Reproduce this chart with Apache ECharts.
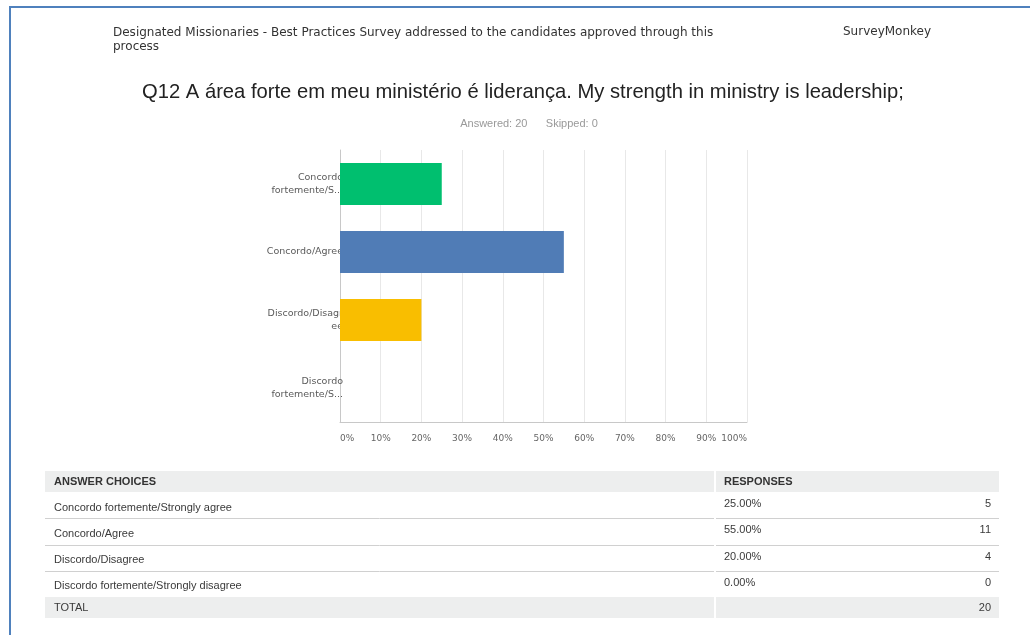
<!DOCTYPE html>
<html>
<head>
<meta charset="utf-8">
<title>Q12 A área forte em meu ministério é liderança</title>
<script src="https://cdn.jsdelivr.net/npm/echarts@6/dist/echarts.min.js"></script>
<style>
  html, body { margin: 0; padding: 0; background: #fff; }
  #chart { width: 1030px; height: 635px; }
</style>
</head>
<body>
<div id="chart"></div>
<script>
// Answer choices (full text, shown in the table)
const answerChoices = [
  'Concordo fortemente/Strongly agree',
  'Concordo/Agree',
  'Discordo/Disagree',
  'Discordo fortemente/Strongly disagree'
];
// Shortened labels shown on the category axis
const axisLabels = [
  'Concordo\nfortemente/S...',
  'Concordo/Agree',
  'Discordo/Disagr\nee',
  'Discordo\nfortemente/S...'
];
// Response counts and percentages
const responseCounts = [5, 11, 4, 0];
const responsePercents = [25, 55, 20, 0];
const totalResponses = 20;
const skipped = 0;
const barColors = ['#00BF6F', '#507CB6', '#F9BE00', '#D25F90'];

const chart = echarts.init(document.getElementById('chart'), null, { renderer: 'canvas' });

// Table drawn below the chart
const tbl = { left: 45, right: 999, split: 715, headTop: 471, headH: 21, rowH: 26.3 };
const tableEls = [];
const ff = '"Liberation Sans", Arial, sans-serif';
const cellColor = '#3a3a3a';
tableEls.push({ type: 'rect', shape: { x: tbl.left, y: tbl.headTop, width: tbl.split - tbl.left - 1, height: tbl.headH }, style: { fill: '#EDEEEE' } });
tableEls.push({ type: 'rect', shape: { x: tbl.split + 1, y: tbl.headTop, width: tbl.right - tbl.split - 1, height: tbl.headH }, style: { fill: '#EDEEEE' } });
tableEls.push({ type: 'text', x: 54, y: tbl.headTop + 11, style: { text: 'ANSWER CHOICES', font: 'bold 11px ' + ff, fill: '#333', textVerticalAlign: 'middle' } });
tableEls.push({ type: 'text', x: 724, y: tbl.headTop + 11, style: { text: 'RESPONSES', font: 'bold 11px ' + ff, fill: '#333', textVerticalAlign: 'middle' } });
answerChoices.forEach((name, i) => {
  const top = tbl.headTop + tbl.headH + i * tbl.rowH;
  tableEls.push({ type: 'text', x: 54, y: top + 15.5, style: { text: name, font: '11px ' + ff, fill: cellColor, textVerticalAlign: 'middle' } });
  tableEls.push({ type: 'text', x: 724, y: top + 12, style: { text: responsePercents[i].toFixed(2) + '%', font: '11px ' + ff, fill: cellColor, textVerticalAlign: 'middle' } });
  tableEls.push({ type: 'text', x: 991, y: top + 12, style: { text: String(responseCounts[i]), font: '11px ' + ff, fill: cellColor, textAlign: 'right', textVerticalAlign: 'middle' } });
  if (i < answerChoices.length - 1) {
    const ly = Math.round(top + tbl.rowH) + 0.5;
    tableEls.push({ type: 'line', shape: { x1: tbl.left, y1: ly, x2: tbl.split - 1, y2: ly }, style: { stroke: '#D0D0D0', lineWidth: 1 } });
    tableEls.push({ type: 'line', shape: { x1: tbl.split + 1, y1: ly, x2: tbl.right, y2: ly }, style: { stroke: '#D0D0D0', lineWidth: 1 } });
  }
});
const totTop = 597;
tableEls.push({ type: 'rect', shape: { x: tbl.left, y: totTop, width: tbl.split - tbl.left - 1, height: 21 }, style: { fill: '#EDEEEE' } });
tableEls.push({ type: 'rect', shape: { x: tbl.split + 1, y: totTop, width: tbl.right - tbl.split - 1, height: 21 }, style: { fill: '#EDEEEE' } });
tableEls.push({ type: 'text', x: 54, y: totTop + 10.5, style: { text: 'TOTAL', font: '11px ' + ff, fill: cellColor, textVerticalAlign: 'middle' } });
tableEls.push({ type: 'text', x: 991, y: totTop + 10.5, style: { text: String(totalResponses), font: '11px ' + ff, fill: cellColor, textAlign: 'right', textVerticalAlign: 'middle' } });

const option = {
  backgroundColor: '#ffffff',
  animation: false,
  title: [
    {
      text: 'Q12 A área forte em meu ministério é liderança. My strength in ministry is leadership;',
      left: 518, top: 77, textAlign: 'center',
      textStyle: { fontFamily: ff, fontSize: 20.2, fontWeight: 'normal', color: '#222' }
    },
    {
      text: 'Answered: ' + totalResponses + '      Skipped: ' + skipped,
      left: 524, top: 113, textAlign: 'center',
      textStyle: { fontFamily: ff, fontSize: 11, fontWeight: 'normal', color: '#999' }
    }
  ],
  grid: { left: 340, right: 283, top: 150, bottom: 213, containLabel: false },
  xAxis: {
    type: 'value', min: 0, max: 100, interval: 10,
    axisLine: { show: true, lineStyle: { color: '#C8C8C8', width: 1 } },
    axisTick: { show: false },
    splitLine: { show: true, lineStyle: { color: '#E8E8E8', width: 1 } },
    axisLabel: {
      formatter: v => v + '%', margin: 12, color: '#666',
      fontFamily: '"DejaVu Sans", sans-serif', fontSize: 9,
      alignMinLabel: 'left', alignMaxLabel: 'right',
      showMinLabel: true, showMaxLabel: true
    }
  },
  yAxis: {
    type: 'category', inverse: true, data: axisLabels,
    axisLine: { show: true, lineStyle: { color: '#C8C8C8', width: 1 } },
    axisTick: { show: false },
    axisLabel: {
      margin: -3, color: '#5a5a5a', fontFamily: '"DejaVu Sans", sans-serif',
      fontSize: 9.5, lineHeight: 13, align: 'right', padding: [4, 0, 0, 0]
    }
  },
  series: [{
    type: 'bar',
    barCategoryGap: '38%',
    data: responsePercents.map((v, i) => ({ value: v, itemStyle: { color: barColors[i] } })),
    z: 1
  }],
  graphic: [
    // page frame
    { type: 'line', shape: { x1: 9, y1: 7, x2: 1030, y2: 7 }, style: { stroke: '#4F81BD', lineWidth: 2 } },
    { type: 'line', shape: { x1: 10, y1: 6, x2: 10, y2: 635 }, style: { stroke: '#4F81BD', lineWidth: 2 } },
    // page header
    { type: 'text', x: 113, y: 26, style: { text: 'Designated Missionaries - Best Practices Survey addressed to the candidates approved through this\nprocess', font: '12px "DejaVu Sans", sans-serif', fill: '#333', lineHeight: 14 } },
    { type: 'text', x: 843, y: 26, style: { text: 'SurveyMonkey', font: '12px "DejaVu Sans", sans-serif', fill: '#333' } },
    ...tableEls
  ]
};
chart.setOption(option);
</script>
</body>
</html>
